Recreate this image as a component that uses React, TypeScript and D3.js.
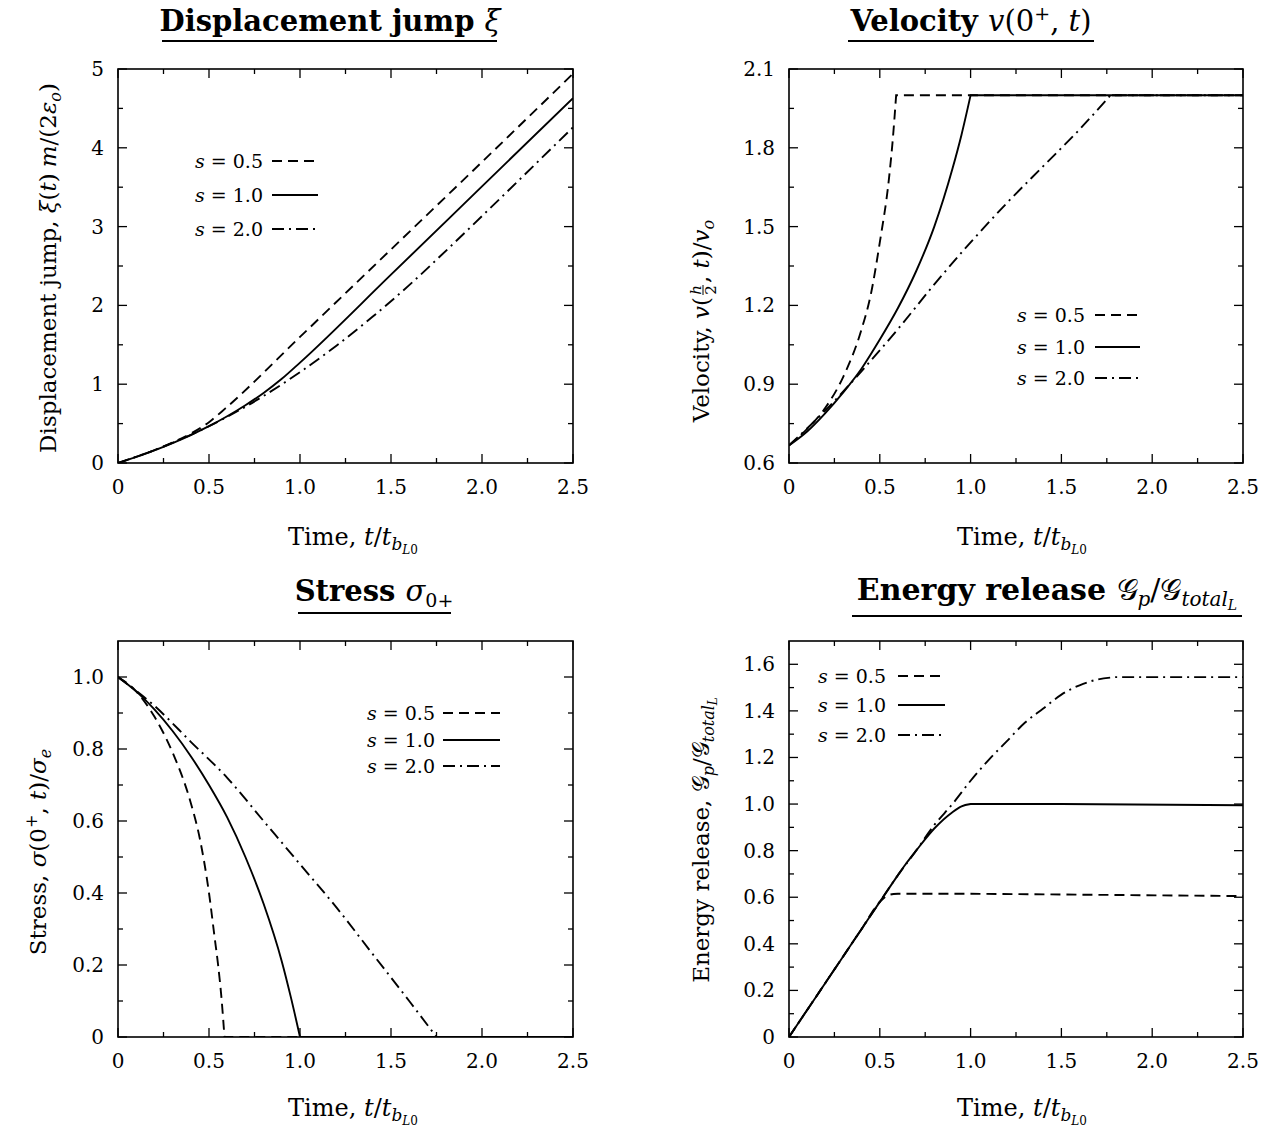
import React from "react";
import * as d3 from "d3";

const FONT = "'DejaVu Serif', 'Liberation Serif', serif";

// ---------- shared x axis (time) ----------
const timeMajor = [0, 0.5, 1.0, 1.5, 2.0, 2.5];
const timeLabels = ["0", "0.5", "1.0", "1.5", "2.0", "2.5"];
const timeMinor = [0.25, 0.75, 1.25, 1.75, 2.25];

const legendValues = ["0.5", "1.0", "2.0"];

// ---------- Panel 1: displacement jump ----------
const dispMajor = [0, 1, 2, 3, 4, 5];
const dispLabels = ["0", "1", "2", "3", "4", "5"];
const dispMinor = [0.5, 1.5, 2.5, 3.5, 4.5];
const dispT05 = [0, 0.1, 0.2, 0.3, 0.4, 0.5, 0.59, 1.0, 1.5, 2.0, 2.5];
const dispV05 = [0, 0.078, 0.163, 0.26, 0.373, 0.518, 0.693, 1.6, 2.71, 3.82, 4.94];
const dispT10 = [0, 0.1, 0.2, 0.3, 0.4, 0.5, 0.6, 0.7, 0.8, 0.9, 1.0, 1.5, 2.0, 2.5];
const dispV10 = [0, 0.077, 0.161, 0.253, 0.355, 0.467, 0.593, 0.733, 0.889, 1.068, 1.274, 2.39, 3.51, 4.63];
const dispT20 = [0, 0.2, 0.4, 0.6, 0.8, 1.0, 1.2, 1.4, 1.6, 1.77, 2.0, 2.5];
const dispV20 = [0, 0.163, 0.357, 0.586, 0.851, 1.153, 1.489, 1.858, 2.257, 2.623, 3.134, 4.26];

// ---------- Panel 2: velocity ----------
const velMajor = [0.6, 0.9, 1.2, 1.5, 1.8, 2.1];
const velLabels = ["0.6", "0.9", "1.2", "1.5", "1.8", "2.1"];
const velMinor = [0.75, 1.05, 1.35, 1.65, 1.95];
const velT05 = [0, 0.1, 0.2, 0.3, 0.4, 0.45, 0.5, 0.55, 0.57, 0.59, 1.0, 2.5];
const velV05 = [0.667, 0.73, 0.81, 0.93, 1.11, 1.24, 1.44, 1.68, 1.82, 2.0, 2.0, 2.0];
const velT10 = [0, 0.1, 0.2, 0.3, 0.4, 0.5, 0.6, 0.7, 0.8, 0.9, 0.95, 1.0, 2.5];
const velV10 = [0.667, 0.72, 0.79, 0.87, 0.96, 1.07, 1.19, 1.33, 1.5, 1.72, 1.85, 2.0, 2.0];
const velT20 = [0, 0.2, 0.4, 0.6, 0.8, 1.0, 1.2, 1.4, 1.6, 1.77, 2.5];
const velV20 = [0.667, 0.8, 0.95, 1.11, 1.28, 1.44, 1.59, 1.73, 1.87, 2.0, 2.0];

// ---------- Panel 3: stress ----------
const strMajor = [0, 0.2, 0.4, 0.6, 0.8, 1.0];
const strLabels = ["0", "0.2", "0.4", "0.6", "0.8", "1.0"];
const strMinor = [0.1, 0.3, 0.5, 0.7, 0.9];
const strT05 = [0, 0.1, 0.2, 0.3, 0.4, 0.45, 0.5, 0.53, 0.55, 0.57, 0.585, 2.5];
const strV05 = [1.0, 0.96, 0.89, 0.79, 0.65, 0.55, 0.4, 0.28, 0.2, 0.1, 0, 0];
const strT10 = [0, 0.1, 0.2, 0.3, 0.4, 0.5, 0.6, 0.7, 0.8, 0.9, 0.95, 1.0, 2.5];
const strV10 = [1.0, 0.96, 0.91, 0.85, 0.78, 0.7, 0.61, 0.5, 0.37, 0.21, 0.11, 0, 0];
const strT20 = [0, 0.2, 0.4, 0.6, 0.8, 1.0, 1.2, 1.4, 1.6, 1.75, 2.5];
const strV20 = [1.0, 0.92, 0.82, 0.72, 0.6, 0.48, 0.36, 0.23, 0.1, 0, 0];

// ---------- Panel 4: energy release ----------
const engMajor = [0, 0.2, 0.4, 0.6, 0.8, 1.0, 1.2, 1.4, 1.6];
const engLabels = ["0", "0.2", "0.4", "0.6", "0.8", "1.0", "1.2", "1.4", "1.6"];
const engMinor = [0.1, 0.3, 0.5, 0.7, 0.9, 1.1, 1.3, 1.5];
const engT05 = [0, 0.1, 0.2, 0.3, 0.4, 0.5, 0.55, 0.6, 1.0, 2.5];
const engV05 = [0, 0.116, 0.232, 0.348, 0.464, 0.58, 0.61, 0.615, 0.615, 0.605];
const engT10 = [0, 0.1, 0.2, 0.3, 0.4, 0.5, 0.6, 0.65, 0.7, 0.8, 0.9, 0.95, 1.0, 1.5, 2.5];
const engV10 = [0, 0.116, 0.232, 0.348, 0.464, 0.58, 0.695, 0.75, 0.8, 0.895, 0.965, 0.99, 1.0, 1.0, 0.995];
const engT20 = [0, 0.1, 0.2, 0.3, 0.4, 0.5, 0.6, 0.7, 0.8, 0.9, 1.0, 1.1, 1.2, 1.3, 1.4, 1.5, 1.6, 1.7, 1.8, 2.5];
const engV20 = [0, 0.116, 0.232, 0.348, 0.464, 0.58, 0.695, 0.8, 0.91, 1.0, 1.1, 1.19, 1.27, 1.35, 1.41, 1.47, 1.51, 1.535, 1.545, 1.545];

const DASH = "10,6";
const DASHDOT = "12,5,2,5";
const styleOrder = [DASH, DASHDOT, ""]; // s=0.5, s=2.0, s=1.0 draw order

type Series = { t: number[]; v: number[]; dash: string };

type PanelProps = {
  id: string;
  l: number; r: number; t: number; b: number;
  yDomain: [number, number];
  yMajor: number[]; yLabels: string[]; yMinor: number[];
  series: Series[];
  legend: { x: number; lx0: number; lx1: number; rows: number[] };
};

function Panel(p: PanelProps) {
  const xs = d3.scaleLinear().domain([0, 2.5]).range([p.l, p.r]);
  const ys = d3.scaleLinear().domain(p.yDomain).range([p.b, p.t]);
  const curved = d3
    .line<[number, number]>()
    .x((d) => xs(d[0]))
    .y((d) => ys(d[1]))
    .curve(d3.curveMonotoneX);
  const straight = d3
    .line<[number, number]>()
    .x((d) => xs(d[0]))
    .y((d) => ys(d[1]));

  // split a series into curved runs and flat (constant) runs so corners stay sharp
  const buildPath = (s: Series) => {
    const pts = s.t.map((tt, k) => [tt, s.v[k]] as [number, number]);
    const segs: { flat: boolean; pts: [number, number][] }[] = [];
    for (let i = 0; i < pts.length - 1; i++) {
      const flat = pts[i][1] === pts[i + 1][1];
      const last = segs[segs.length - 1];
      if (last && last.flat === flat) last.pts.push(pts[i + 1]);
      else segs.push({ flat, pts: [pts[i], pts[i + 1]] });
    }
    let d = "";
    segs.forEach((sg, k) => {
      let sd = (sg.flat ? straight(sg.pts) : curved(sg.pts)) || "";
      if (k > 0) sd = "L" + sd.slice(1);
      d += sd;
    });
    return d;
  };

  const MAJ = 9, MIN = 5;
  const tickStroke = { stroke: "#000", strokeWidth: 1.3 };
  const legendDash = [DASH, "", DASHDOT];
  return (
    <g>
      <defs>
        <clipPath id={p.id}>
          <rect x={p.l} y={p.t} width={p.r - p.l} height={p.b - p.t} />
        </clipPath>
      </defs>
      <g clipPath={`url(#${p.id})`}>
        {p.series.map((s, i) => (
          <path
            key={i}
            d={buildPath(s)}
            fill="none"
            stroke="#000"
            strokeWidth={1.9}
            strokeDasharray={s.dash || undefined}
          />
        ))}
      </g>
      <rect x={p.l} y={p.t} width={p.r - p.l} height={p.b - p.t} fill="none" stroke="#000" strokeWidth={1.6} />
      {timeMajor.map((v, i) => (
        <g key={"xm" + i}>
          <line x1={xs(v)} x2={xs(v)} y1={p.b} y2={p.b - MAJ} {...tickStroke} />
          <line x1={xs(v)} x2={xs(v)} y1={p.t} y2={p.t + MAJ} {...tickStroke} />
          <text x={xs(v)} y={p.b + 31} textAnchor="middle" fontSize={20} fontFamily={FONT}>
            {timeLabels[i]}
          </text>
        </g>
      ))}
      {timeMinor.map((v, i) => (
        <g key={"xn" + i}>
          <line x1={xs(v)} x2={xs(v)} y1={p.b} y2={p.b - MIN} {...tickStroke} />
          <line x1={xs(v)} x2={xs(v)} y1={p.t} y2={p.t + MIN} {...tickStroke} />
        </g>
      ))}
      {p.yMajor.map((v, i) => (
        <g key={"ym" + i}>
          <line x1={p.l} x2={p.l + MAJ} y1={ys(v)} y2={ys(v)} {...tickStroke} />
          <line x1={p.r} x2={p.r - MAJ} y1={ys(v)} y2={ys(v)} {...tickStroke} />
          <text x={p.l - 14} y={ys(v) + 7} textAnchor="end" fontSize={20} fontFamily={FONT}>
            {p.yLabels[i]}
          </text>
        </g>
      ))}
      {p.yMinor.map((v, i) => (
        <g key={"yn" + i}>
          <line x1={p.l} x2={p.l + MIN} y1={ys(v)} y2={ys(v)} {...tickStroke} />
          <line x1={p.r} x2={p.r - MIN} y1={ys(v)} y2={ys(v)} {...tickStroke} />
        </g>
      ))}
      {p.legend.rows.map((ry, i) => (
        <g key={"lg" + i}>
          <text x={p.legend.x} y={ry + 7} fontSize={19} fontFamily={FONT}>
            <tspan fontStyle="italic">s</tspan> = {legendValues[i]}
          </text>
          <line
            x1={p.legend.lx0}
            x2={p.legend.lx1}
            y1={ry}
            y2={ry}
            stroke="#000"
            strokeWidth={1.9}
            strokeDasharray={legendDash[i] || undefined}
          />
        </g>
      ))}
    </g>
  );
}

function mk(t05: number[], v05: number[], t10: number[], v10: number[], t20: number[], v20: number[]): Series[] {
  return [
    { t: t05, v: v05, dash: styleOrder[0] },
    { t: t20, v: v20, dash: styleOrder[1] },
    { t: t10, v: v10, dash: styleOrder[2] },
  ];
}

function TimeLabel({ cx, y }: { cx: number; y: number }) {
  return (
    <text x={cx} y={y} textAnchor="middle" fontSize={24} fontFamily={FONT}>
      Time, <tspan fontStyle="italic">t</tspan>/<tspan fontStyle="italic">t</tspan>
      <tspan fontStyle="italic" fontSize={17} dy={5}>b</tspan>
      <tspan fontStyle="italic" fontSize={12} dy={4}>L</tspan>
      <tspan fontSize={12}>0</tspan>
    </text>
  );
}

export default function App() {
  const L = { l: 118, r: 573 };
  const R = { l: 789, r: 1243 };
  const TOP = { t: 69, b: 463 };
  const BOT = { t: 641, b: 1037 };
  const G = "\u{1D4A2}";
  return (
    <svg
      width={1269}
      height={1131}
      viewBox="0 0 1269 1131"
      style={{ position: "absolute", left: 0, top: 0, background: "#fff" }}
    >
      <rect x={0} y={0} width={1269} height={1131} fill="#fff" />

      {/* Titles */}
      <text x={330} y={31} textAnchor="middle" fontSize={29} fontWeight="bold" fontFamily={FONT}>
        Displacement jump <tspan fontStyle="italic" fontWeight="normal">ξ</tspan>
      </text>
      <line x1={162} x2={497} y1={41} y2={41} stroke="#000" strokeWidth={1.8} />

      <text x={971} y={31} textAnchor="middle" fontSize={29} fontWeight="bold" fontFamily={FONT}>
        Velocity <tspan fontWeight="normal"><tspan fontStyle="italic">v</tspan>(0</tspan>
        <tspan fontWeight="normal" fontSize={19} dy={-11}>+</tspan>
        <tspan fontWeight="normal" dy={11}>, <tspan fontStyle="italic">t</tspan>)</tspan>
      </text>
      <line x1={848} x2={1094} y1={41} y2={41} stroke="#000" strokeWidth={1.8} />

      <text x={374} y={601} textAnchor="middle" fontSize={29} fontWeight="bold" fontFamily={FONT}>
        Stress <tspan fontWeight="normal" fontStyle="italic">σ</tspan>
        <tspan fontWeight="normal" fontSize={19} dy={6}>0+</tspan>
      </text>
      <line x1={298} x2={451} y1={613} y2={613} stroke="#000" strokeWidth={1.8} />

      <text x={1047} y={600} textAnchor="middle" fontSize={30} fontWeight="bold" fontFamily={FONT}>
        Energy release <tspan fontWeight="normal">{G}</tspan>
        <tspan fontWeight="normal" fontStyle="italic" fontSize={20} dy={6}>p</tspan>
        <tspan fontWeight="normal" dy={-6}>/{G}</tspan>
        <tspan fontWeight="normal" fontStyle="italic" fontSize={20} dy={6}>total</tspan>
        <tspan fontWeight="normal" fontStyle="italic" fontSize={14} dy={4}>L</tspan>
      </text>
      <line x1={852} x2={1242} y1={616} y2={616} stroke="#000" strokeWidth={1.8} />

      {/* Y axis labels */}
      <text transform="translate(56,268) rotate(-90)" textAnchor="middle" fontSize={23} fontFamily={FONT}>
        Displacement jump, <tspan fontStyle="italic">ξ</tspan>(<tspan fontStyle="italic">t</tspan>)
        <tspan fontStyle="italic" dx={6}>m</tspan>/(2<tspan fontStyle="italic">ε</tspan>
        <tspan fontStyle="italic" fontSize={16} dy={5}>o</tspan>
        <tspan dy={-5}>)</tspan>
      </text>

      <g transform="translate(709,325) rotate(-90)">
        <text x={28} y={0} textAnchor="end" fontSize={23} fontFamily={FONT}>
          Velocity, <tspan fontStyle="italic">v</tspan>(
        </text>
        <text x={35} y={-8} textAnchor="middle" fontSize={15} fontStyle="italic" fontFamily={FONT}>h</text>
        <line x1={30} x2={40} y1={-6} y2={-6} stroke="#000" strokeWidth={1} />
        <text x={35} y={7} textAnchor="middle" fontSize={15} fontFamily={FONT}>2</text>
        <text x={42} y={0} textAnchor="start" fontSize={23} fontFamily={FONT}>
          , <tspan fontStyle="italic">t</tspan>)/<tspan fontStyle="italic">v</tspan>
          <tspan fontStyle="italic" fontSize={16} dy={5}>o</tspan>
        </text>
      </g>

      <text transform="translate(46,852) rotate(-90)" textAnchor="middle" fontSize={23} fontFamily={FONT}>
        Stress, <tspan fontStyle="italic">σ</tspan>(0<tspan fontSize={16} dy={-9}>+</tspan>
        <tspan dy={9}>, </tspan><tspan fontStyle="italic">t</tspan>)/<tspan fontStyle="italic">σ</tspan>
        <tspan fontStyle="italic" fontSize={16} dy={5}>e</tspan>
      </text>

      <text transform="translate(709,840) rotate(-90)" textAnchor="middle" fontSize={23} fontFamily={FONT}>
        Energy release, {G}
        <tspan fontStyle="italic" fontSize={16} dy={5}>p</tspan>
        <tspan dy={-5}>/{G}</tspan>
        <tspan fontStyle="italic" fontSize={16} dy={5}>total</tspan>
        <tspan fontStyle="italic" fontSize={12} dy={3}>L</tspan>
      </text>

      {/* X axis labels */}
      <TimeLabel cx={353} y={545} />
      <TimeLabel cx={1022} y={545} />
      <TimeLabel cx={353} y={1116} />
      <TimeLabel cx={1022} y={1116} />

      <Panel
        id="c1" {...L} {...TOP}
        yDomain={[0, 5]} yMajor={dispMajor} yLabels={dispLabels} yMinor={dispMinor}
        series={mk(dispT05, dispV05, dispT10, dispV10, dispT20, dispV20)}
        legend={{ x: 195, lx0: 272, lx1: 318, rows: [161, 195, 229] }}
      />
      <Panel
        id="c2" {...R} {...TOP}
        yDomain={[0.6, 2.1]} yMajor={velMajor} yLabels={velLabels} yMinor={velMinor}
        series={mk(velT05, velV05, velT10, velV10, velT20, velV20)}
        legend={{ x: 1017, lx0: 1095, lx1: 1140, rows: [315, 347, 378] }}
      />
      <Panel
        id="c3" {...L} {...BOT}
        yDomain={[0, 1.1]} yMajor={strMajor} yLabels={strLabels} yMinor={strMinor}
        series={mk(strT05, strV05, strT10, strV10, strT20, strV20)}
        legend={{ x: 367, lx0: 443, lx1: 500, rows: [713, 740, 766] }}
      />
      <Panel
        id="c4" {...R} {...BOT}
        yDomain={[0, 1.7]} yMajor={engMajor} yLabels={engLabels} yMinor={engMinor}
        series={mk(engT05, engV05, engT10, engV10, engT20, engV20)}
        legend={{ x: 818, lx0: 898, lx1: 945, rows: [676, 705, 735] }}
      />
    </svg>
  );
}
